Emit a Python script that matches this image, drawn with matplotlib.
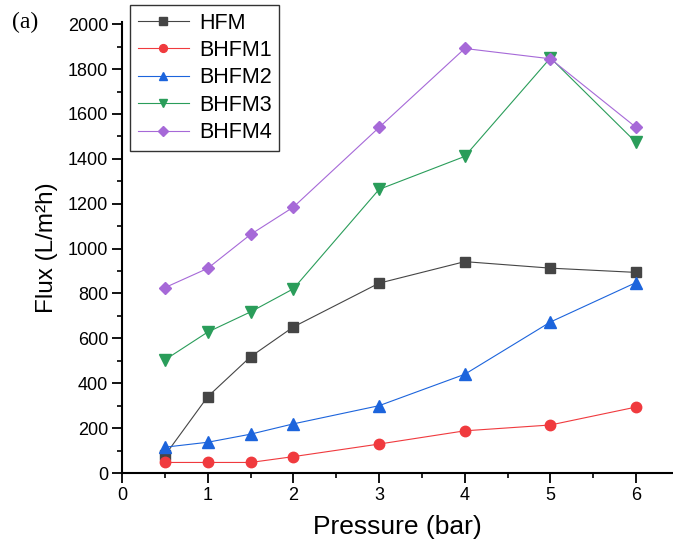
import numpy as np
import matplotlib
matplotlib.use("Agg")
import matplotlib.pyplot as plt
from matplotlib.ticker import MultipleLocator

# data
pressure = [0.5, 1, 1.5, 2, 3, 4, 5, 6]
hfm   = [78, 340, 518, 651, 846, 942, 913, 894]
bhfm1 = [47, 47, 47, 73, 129, 188, 214, 294]
bhfm2 = [115, 137, 173, 219, 300, 440, 673, 849]
bhfm3 = [504, 628, 718, 821, 1264, 1411, 1850, 1473]
bhfm4 = [826, 912, 1063, 1185, 1540, 1892, 1846, 1540]
names = ["HFM", "BHFM1", "BHFM2", "BHFM3", "BHFM4"]

plt.rcParams['font.family'] = ['Liberation Sans', 'DejaVu Sans']

fig = plt.figure(figsize=(6.73, 5.5), dpi=100)
ax = fig.add_axes([122/673, 77/550, 551/673, 451/550])

series = [hfm, bhfm1, bhfm2, bhfm3, bhfm4]
colors = ["#454545", "#f03a3e", "#1c64dc", "#2a9d5a", "#a669d8"]
markers = ["s", "o", "^", "v", "D"]
msizes = [7, 7.5, 8, 8, 6.5]

for y, c, m, ms, n in zip(series, colors, markers, msizes, names):
    ax.plot(pressure, y, color=c, lw=0.8, marker=m, ms=ms,
            mec=c, mfc=c, label=n)

ax.set_xlim(0, 6.43)
ax.set_ylim(0, 2010)
ax.xaxis.set_major_locator(MultipleLocator(1))
ax.xaxis.set_minor_locator(MultipleLocator(0.5))
ax.yaxis.set_major_locator(MultipleLocator(200))
ax.yaxis.set_minor_locator(MultipleLocator(100))
ax.spines['top'].set_visible(False)
ax.spines['right'].set_visible(False)
for s in ['left', 'bottom']:
    ax.spines[s].set_linewidth(1.5)
ax.tick_params(which='major', direction='out', length=7, width=1.3,
               labelsize=13, pad=3)
ax.tick_params(which='minor', direction='out', length=3.6, width=1.2)

ax.set_xlabel("Pressure (bar)", fontsize=19, labelpad=8)
ax.set_ylabel("Flux (L/m²h)", fontsize=17.5, labelpad=7)

fig.text(12/673, 1 - 22/550, "(a)", family='Liberation Serif', fontsize=17,
         va='center', ha='left')

leg = ax.legend(loc='upper left', bbox_to_anchor=(130/673, 1 - 5/550),
                bbox_transform=fig.transFigure, fontsize=15.5,
                frameon=True, fancybox=False, edgecolor='black',
                markerscale=0.75, handlelength=2.4, handletextpad=0.45,
                borderpad=0.35, labelspacing=0.3, borderaxespad=0)
leg.get_frame().set_linewidth(1.0)

fig.savefig("out.png", dpi=100)
